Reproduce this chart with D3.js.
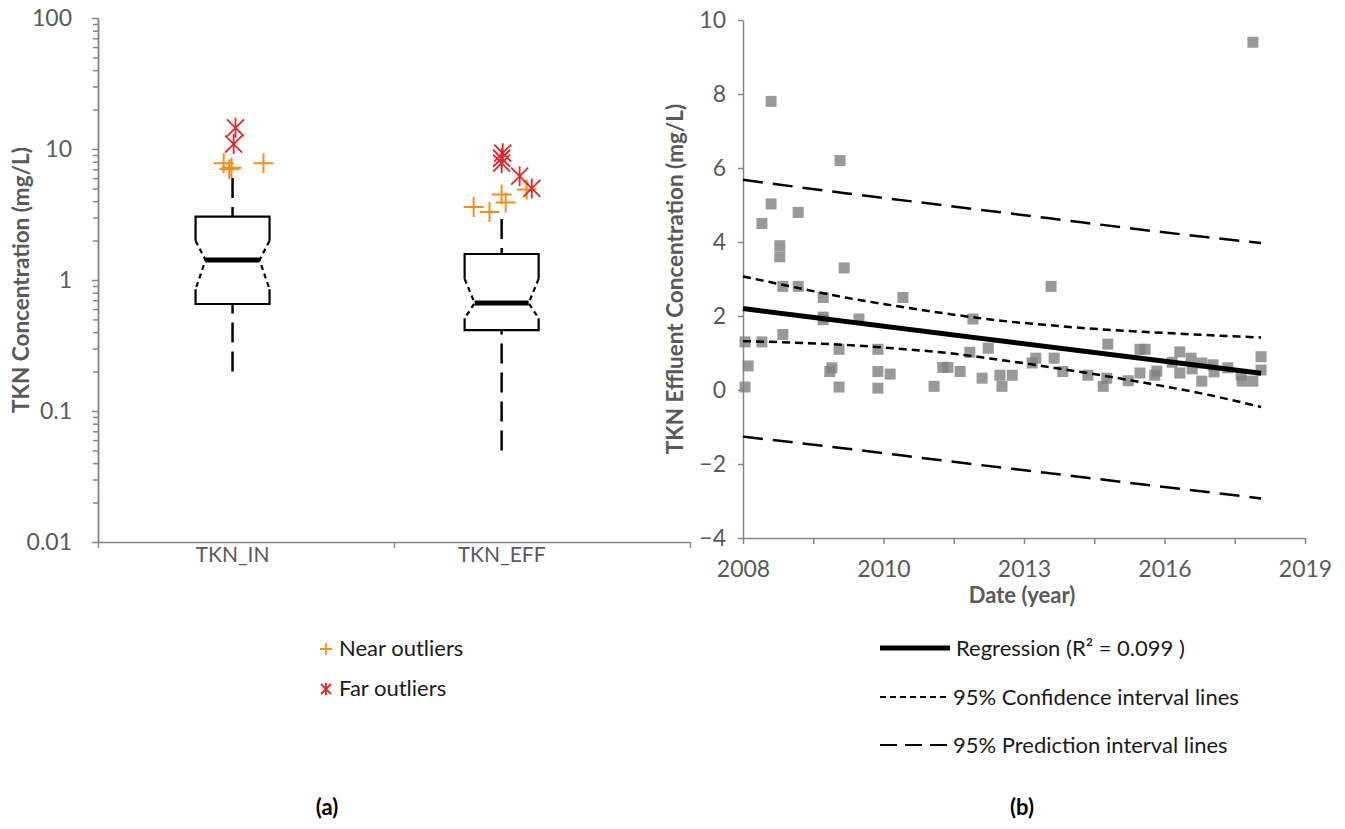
<!DOCTYPE html>
<html>
<head>
<meta charset="utf-8">
<script src="https://cdn.jsdelivr.net/npm/d3@7"></script>
<style>
  body { margin: 0; background: #fff; }
  text { font-family: Lato, "Open Sans", sans-serif; }
</style>
</head>
<body>
<script>
// ---- (a) TKN box plots ----
const groups      = ["TKN_IN", "TKN_EFF"];
const whiskerLow  = [0.2, 0.05];
const q1          = [0.656, 0.415];
const notchLow    = [0.85, 0.51];
const medians     = [1.42, 0.667];
const notchHigh   = [1.99, 1.02];
const q3          = [3.05, 1.58];
const whiskerHigh = [6.0, 2.92];
// [group, value, jitter in category units]
const nearOutliers = [
  [0, 7.8, -0.033], [0, 7.2, -0.004], [0, 7.0, -0.012], [0, 7.8, 0.115],
  [1, 3.6, -0.104], [1, 3.3, -0.045], [1, 4.5, 0.0], [1, 3.9, 0.015], [1, 4.9, 0.093]
];
const farOutliers = [
  [0, 14.5, 0.011], [0, 10.9, 0.004],
  [1, 9.3, 0.004], [1, 8.5, 0.0], [1, 7.8, 0.0], [1, 6.2, 0.067], [1, 5.0, 0.112]
];
const logTicks = [0.01, 0.1, 1, 10, 100];
const logTickLabels = ["0.01", "0.1", "1", "10", "100"];

// ---- (b) TKN effluent vs date ----
const effYear = [
  2008.04, 2008.04, 2008.10, 2008.37, 2008.37, 2008.55, 2008.55, 2008.72, 2008.72, 2008.78,
  2008.78, 2009.08, 2009.08, 2009.57, 2009.57, 2009.57, 2009.70, 2009.74, 2009.88, 2009.88,
  2009.90, 2009.98, 2010.27, 2010.64, 2010.64, 2010.64, 2010.88, 2011.13, 2011.74, 2011.91,
  2012.01, 2012.25, 2012.44, 2012.50, 2012.68, 2012.80, 2013.03, 2013.07, 2013.27, 2013.66,
  2013.73, 2014.03, 2014.09, 2014.26, 2014.75, 2015.05, 2015.12, 2015.14, 2015.54, 2015.77,
  2015.87, 2015.77, 2016.06, 2016.10, 2016.40, 2016.55, 2016.55, 2016.77, 2016.79, 2016.98,
  2016.98, 2017.20, 2017.22, 2017.49, 2017.75, 2017.77, 2017.98, 2017.98, 2018.14, 2018.14
];
const effConc = [
  1.3, 0.08, 0.65, 4.5, 1.3, 7.8, 5.03, 3.9, 3.6, 2.8,
  1.5, 4.8, 2.8, 2.5, 1.97, 1.9, 0.5, 0.6, 1.1, 0.08,
  6.2, 3.3, 1.92, 1.1, 0.5, 0.05, 0.43, 2.5, 0.1, 0.61,
  0.61, 0.5, 1.02, 1.92, 0.32, 1.13, 0.4, 0.1, 0.4, 0.73,
  0.86, 2.8, 0.86, 0.5, 0.4, 0.1, 0.32, 1.24, 0.25, 1.1,
  1.1, 0.46, 0.4, 0.51, 0.75, 1.03, 0.46, 0.86, 0.57, 0.73,
  0.24, 0.68, 0.49, 0.6, 0.4, 0.24, 9.4, 0.24, 0.9, 0.54
];
const regYear = [2008, 2018.14];
const regConc = [2.2, 0.45];
const ciYear  = [2008, 2009, 2010, 2011, 2012, 2013, 2014, 2015, 2016, 2017, 2018.14];
const ciUpper = [3.07, 2.78, 2.50, 2.27, 2.06, 1.88, 1.75, 1.64, 1.56, 1.49, 1.42];
const ciLower = [1.32, 1.28, 1.22, 1.12, 1.00, 0.82, 0.62, 0.40, 0.16, -0.10, -0.46];
const piYear  = [2008, 2010, 2012, 2014, 2016, 2018.14];
const piUpper = [5.68, 5.32, 4.98, 4.64, 4.30, 3.97];
const piLower = [-1.26, -1.58, -1.92, -2.25, -2.58, -2.93];
const effTicks = [-4, -2, 0, 2, 4, 6, 8, 10];
const yearLabels = ["2008", "2010", "2013", "2016", "2019"];

const axisGrey = "#868686";
const labelGrey = "#595959";
const nearColor = "#f98d17";
const farColor = "#e5262b";

var svg = d3.select("body").append("svg")
    .attr("width", 1345)
    .attr("height", 829);

function styleAxis(g, size) {
  g.select(".domain").attr("stroke", axisGrey).attr("stroke-width", 1.5);
  g.selectAll(".tick line").attr("stroke", axisGrey).attr("stroke-width", 1.5);
  g.selectAll(".tick text").attr("fill", labelGrey).style("font-size", size + "px");
}

// ================= panel (a) =================
var xA = d3.scaleLinear().domain([0, 2.2]).range([98, 690]);
var yA = d3.scaleLog().domain([0.01, 100]).range([542, 18]);

// minor log ticks
var minor = yA.ticks().filter(d => logTicks.indexOf(d) < 0);
svg.append("g")
   .attr("transform", "translate(98,0)")
   .call(d3.axisLeft(yA).tickValues(minor).tickFormat("").tickSize(5).tickSizeOuter(0))
   .call(g => styleAxis(g, 23));

svg.append("g")
   .attr("transform", "translate(98,0)")
   .call(d3.axisLeft(yA).tickValues(logTicks)
           .tickFormat((d, i) => logTickLabels[i]).tickSize(6).tickPadding(20).tickSizeOuter(0))
   .call(g => styleAxis(g, 23));

svg.append("g")
   .attr("transform", "translate(0,542)")
   .call(d3.axisBottom(xA).tickValues([0, 1.1, 2.2]).tickFormat("").tickSize(6).tickSizeOuter(0))
   .call(g => styleAxis(g, 23));

svg.selectAll(".catlabel")
   .data(groups)
   .enter()
   .append("text")
   .attr("x", (d, i) => xA(i + 0.5))
   .attr("y", 562)
   .attr("text-anchor", "middle")
   .attr("fill", labelGrey)
   .style("font-size", "21px")
   .text(d => d);

svg.append("text")
   .attr("transform", "translate(29,280) rotate(-90)")
   .attr("text-anchor", "middle")
   .attr("fill", labelGrey)
   .style("font-size", "22.5px")
   .style("font-weight", "bold")
   .text("TKN Concentration (mg/L)");

var hw = 37, ni = 10;
groups.forEach(function(g, i) {
  var cx = xA(i + 0.5);
  var box = svg.append("g");
  // whiskers, drawn from the end towards the box
  box.append("path")
     .attr("d", "M" + cx + "," + yA(whiskerHigh[i]) + "V" + yA(q3[i]) +
                "M" + cx + "," + yA(whiskerLow[i]) + "V" + yA(q1[i]))
     .attr("stroke", "#000").attr("stroke-width", 2.5)
     .attr("stroke-dasharray", "20,9").attr("fill", "none");
  // solid box parts
  box.append("path")
     .attr("d", "M" + (cx - hw) + "," + yA(notchHigh[i]) + "V" + yA(q3[i]) + "H" + (cx + hw) + "V" + yA(notchHigh[i]) +
                "M" + (cx - hw) + "," + yA(notchLow[i]) + "V" + yA(q1[i]) + "H" + (cx + hw) + "V" + yA(notchLow[i]))
     .attr("stroke", "#000").attr("stroke-width", 2.2).attr("fill", "none");
  // notches
  box.append("path")
     .attr("d", "M" + (cx - hw) + "," + yA(notchHigh[i]) + "L" + (cx - hw + ni) + "," + yA(medians[i]) + "L" + (cx - hw) + "," + yA(notchLow[i]) +
                "M" + (cx + hw) + "," + yA(notchHigh[i]) + "L" + (cx + hw - ni) + "," + yA(medians[i]) + "L" + (cx + hw) + "," + yA(notchLow[i]))
     .attr("stroke", "#000").attr("stroke-width", 2.2)
     .attr("stroke-dasharray", "5,4").attr("fill", "none");
  box.append("line")
     .attr("x1", cx - hw + ni).attr("x2", cx + hw - ni)
     .attr("y1", yA(medians[i])).attr("y2", yA(medians[i]))
     .attr("stroke", "#000").attr("stroke-width", 5);
});

const plusPath = "M-10,0H10M0,-10V10";
const starPath = "M-8.5,-8.5L8.5,8.5M8.5,-8.5L-8.5,8.5M0,-10V10";

svg.selectAll(".near")
   .data(nearOutliers)
   .enter()
   .append("path")
   .attr("transform", d => "translate(" + xA(d[0] + 0.5 + d[2]) + "," + yA(d[1]) + ")")
   .attr("d", plusPath)
   .attr("stroke", nearColor).attr("stroke-width", 2).attr("fill", "none");

svg.selectAll(".far")
   .data(farOutliers)
   .enter()
   .append("path")
   .attr("transform", d => "translate(" + xA(d[0] + 0.5 + d[2]) + "," + yA(d[1]) + ")")
   .attr("d", starPath)
   .attr("stroke", farColor).attr("stroke-width", 1.8).attr("fill", "none");

// legend (a)
svg.append("path").attr("transform", "translate(326,649)")
   .attr("d", "M-6,0H6M0,-6V6").attr("stroke", nearColor).attr("stroke-width", 1.8);
svg.append("path").attr("transform", "translate(326,689)")
   .attr("d", "M-5,-5L5,5M5,-5L-5,5M0,-6V6").attr("stroke", farColor).attr("stroke-width", 1.8);
svg.append("text").attr("x", 339).attr("y", 656).attr("fill", "#1a1a1a")
   .style("font-size", "22px").text("Near outliers");
svg.append("text").attr("x", 339).attr("y", 696).attr("fill", "#1a1a1a")
   .style("font-size", "22px").text("Far outliers");

svg.append("text").attr("x", 327).attr("y", 815).attr("text-anchor", "middle")
   .style("font-size", "22px").style("font-weight", "bold").text("(a)");

// ================= panel (b) =================
var xB = d3.scaleLinear().domain([2008, 2019]).range([743, 1305]);
var yB = d3.scaleLinear().domain([-4, 10]).range([538, 20]);

var yearTicks = d3.range(9).map(i => 2008 + i * 1.375);
svg.append("g")
   .attr("transform", "translate(0,538)")
   .call(d3.axisBottom(xB).tickValues(yearTicks)
           .tickFormat((d, i) => i % 2 === 0 ? yearLabels[i / 2] : "")
           .tickSize(6).tickPadding(17).tickSizeOuter(0))
   .call(g => styleAxis(g, 23));

svg.append("g")
   .attr("transform", "translate(743,0)")
   .call(d3.axisLeft(yB).tickValues(effTicks).tickSize(5).tickPadding(12).tickSizeOuter(0))
   .call(g => styleAxis(g, 23));

svg.append("text")
   .attr("transform", "translate(683,279) rotate(-90)")
   .attr("text-anchor", "middle")
   .attr("fill", labelGrey)
   .style("font-size", "22.5px")
   .style("font-weight", "bold")
   .text("TKN Effluent Concentration (mg/L)");

svg.append("text")
   .attr("x", 1022).attr("y", 603)
   .attr("text-anchor", "middle")
   .attr("fill", labelGrey)
   .style("font-size", "22px")
   .style("font-weight", "bold")
   .text("Date (year)");

var line = d3.line().x(d => xB(d[0])).y(d => yB(d[1]));

svg.selectAll(".pt")
   .data(effYear.map((d, i) => [d, effConc[i]]))
   .enter()
   .append("rect")
   .attr("x", d => xB(d[0]) - 5.5)
   .attr("y", d => yB(d[1]) - 5.5)
   .attr("width", 11)
   .attr("height", 11)
   .attr("fill", "#808080")
   .attr("fill-opacity", 0.8);

svg.append("path")
   .attr("d", line(regYear.map((d, i) => [d, regConc[i]])))
   .attr("stroke", "#000").attr("stroke-width", 5).attr("fill", "none");

[ciUpper, ciLower].forEach(function(s) {
  svg.append("path")
     .attr("d", line.curve(d3.curveMonotoneX)(ciYear.map((d, i) => [d, s[i]])))
     .attr("stroke", "#000").attr("stroke-width", 2.5)
     .attr("stroke-dasharray", "8,5").attr("fill", "none");
});

[piUpper, piLower].forEach(function(s) {
  svg.append("path")
     .attr("d", line.curve(d3.curveMonotoneX)(piYear.map((d, i) => [d, s[i]])))
     .attr("stroke", "#000").attr("stroke-width", 2.5)
     .attr("stroke-dasharray", "20,10").attr("fill", "none");
});

// legend (b)
var legB = [
  {label: "Regression (R\u00b2 = 0.099 )", width: 5, dash: null, y: 648, x2: 950},
  {label: "95% Confidence interval lines", width: 2, dash: "6,4", y: 697, x2: 947},
  {label: "95% Prediction interval lines", width: 2, dash: "17,8", y: 745, x2: 947}
];
legB.forEach(function(d) {
  svg.append("line")
     .attr("x1", 880).attr("x2", d.x2).attr("y1", d.y).attr("y2", d.y)
     .attr("stroke", "#000").attr("stroke-width", d.width)
     .attr("stroke-dasharray", d.dash);
  svg.append("text")
     .attr("x", d.x2 + 6).attr("y", d.y + 8)
     .attr("fill", "#1a1a1a")
     .style("font-size", "22px")
     .text(d.label);
});

svg.append("text").attr("x", 1022).attr("y", 815).attr("text-anchor", "middle")
   .style("font-size", "22px").style("font-weight", "bold").text("(b)");
</script>
</body>
</html>
